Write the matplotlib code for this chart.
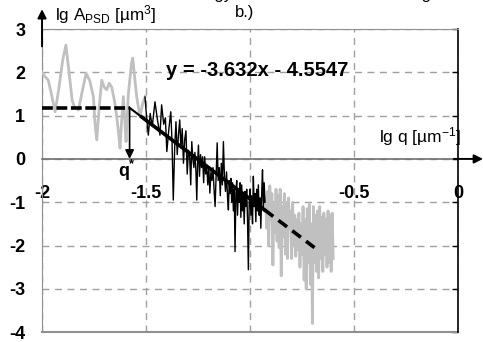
import numpy as np
import matplotlib.pyplot as plt

plt.rcParams['font.family'] = ['Liberation Sans', 'DejaVu Sans']
plt.rcParams['mathtext.fontset'] = 'custom'
plt.rcParams['mathtext.rm'] = 'Liberation Sans'
plt.rcParams['mathtext.it'] = 'Liberation Sans:italic'
plt.rcParams['mathtext.bf'] = 'Liberation Sans:bold'

# ==== data ====
# grey: low-q part (not fitted)
low_x = [-2.000, -1.985, -1.970, -1.955, -1.937, -1.920, -1.900, -1.885, -1.870,
         -1.855, -1.845, -1.825, -1.805, -1.788, -1.770, -1.753, -1.745, -1.737,
         -1.725, -1.713, -1.700, -1.689, -1.677, -1.665, -1.650, -1.641, -1.632,
         -1.625, -1.617, -1.609, -1.602, -1.596, -1.585, -1.570, -1.564, -1.555,
         -1.545, -1.529, -1.515, -1.503]
low_y = [2.00, 1.90, 1.82, 1.50, 1.09, 1.60, 2.30, 2.63, 2.00,
         1.35, 1.21, 1.13, 1.60, 1.98, 1.80, 1.44, 0.80, 0.44,
         1.20, 1.82, 1.65, 1.60, 1.75, 1.66, 1.30, 0.98, 0.60,
         0.25, 0.90, 1.44, 0.90, 0.40, 1.50, 2.20, 2.33, 1.90,
         1.44, 0.98, 1.30, 1.45]

# black: fitted range
fit_x = [-1.505, -1.497, -1.489, -1.480, -1.470, -1.457, -1.445, -1.433, -1.425, -1.415,
         -1.407, -1.400, -1.390, -1.381, -1.375, -1.369, -1.362, -1.356, -1.350, -1.344,
         -1.338, -1.332, -1.326, -1.320, -1.314, -1.308, -1.302, -1.296, -1.290, -1.285,
         -1.280, -1.275, -1.270, -1.265, -1.260, -1.256, -1.252, -1.248, -1.243, -1.238,
         -1.233, -1.228, -1.223, -1.218, -1.213, -1.208, -1.203, -1.198, -1.193, -1.188,
         -1.183, -1.178, -1.173, -1.168, -1.163, -1.158, -1.153, -1.148, -1.143, -1.138,
         -1.133, -1.128, -1.123, -1.118, -1.113, -1.108, -1.104, -1.100, -1.096, -1.092,
         -1.088, -1.084, -1.080, -1.076, -1.072, -1.068, -1.064, -1.060, -1.056, -1.052,
         -1.048, -1.044, -1.040, -1.036, -1.032, -1.028, -1.024, -1.020, -1.016, -1.012,
         -1.008, -1.004, -1.000, -0.996, -0.992, -0.988, -0.984, -0.980, -0.976, -0.972,
         -0.968, -0.964, -0.960, -0.956, -0.952, -0.948, -0.944, -0.940, -0.936, -0.932,
         -0.928]
fit_y = [1.43, 0.95, 0.55, 1.05, 0.75, 1.32, 0.90, 0.55, 1.25, 0.80,
         0.95, 0.17, 0.70, 1.09, 0.40, -0.95, 0.30, 0.86, 0.10, 0.55,
         0.90, 0.25, 0.70, -0.10, 0.45, 0.65, -0.35, 0.20, 0.05, -0.60,
         0.40, 0.00, -0.20, 0.15, -0.30, -0.95, -0.10, 0.32, -0.40, 0.10,
         -0.20, 0.05, -0.55, 0.05, -0.35, -0.15, -0.60, -0.20, -0.79, -0.30,
         -0.50, -0.20, -0.70, -1.10, -0.40, 0.37, -0.50, -0.20, -0.85, -0.10,
         -0.60, 0.40, -0.40, -0.75, -0.30, -0.90, -1.18, -0.50, -0.80, -0.45,
         -1.00, -0.55, -1.20, -0.70, -2.14, -0.80, -0.50, -1.30, -0.70, -1.00,
         -0.55, -1.35, -0.60, -1.20, -0.80, -1.50, -0.75, -1.10, -0.70, -1.40,
         -2.56, -1.00, -0.70, -1.30, -0.85, -1.50, -0.40, -1.10, -0.80, -1.45,
         -0.70, -1.20, -0.60, -1.30, -0.90, -1.60, -0.80, -0.25, -1.20, -0.55,
         -1.00]

# grey: high-q part (not fitted)
high_x = [-0.925, -0.920, -0.915, -0.910, -0.905, -0.900, -0.895, -0.890, -0.885, -0.880,
          -0.875, -0.870, -0.865, -0.860, -0.855, -0.850, -0.845, -0.840, -0.835, -0.830,
          -0.825, -0.820, -0.815, -0.810, -0.805, -0.800, -0.795, -0.790, -0.785, -0.780,
          -0.775, -0.770, -0.765, -0.760, -0.755, -0.750, -0.745, -0.740, -0.735, -0.730,
          -0.725, -0.720, -0.715, -0.710, -0.705, -0.700, -0.695, -0.690, -0.685, -0.680,
          -0.675, -0.670, -0.665, -0.660, -0.655, -0.650, -0.645, -0.640, -0.635, -0.630,
          -0.625, -0.620, -0.615, -0.610, -0.605, -0.600]
high_y = [-0.90, -1.60, -0.75, -2.00, -0.62, -1.40, -0.80, -2.45, -1.00, -1.70,
          -0.70, -1.90, -0.85, -2.05, -0.70, -2.70, -1.10, -1.80, -0.80, -2.20,
          -1.00, -2.30, -0.90, -1.60, -1.20, -2.30, -1.00, -2.00, -1.30, -2.25,
          -1.40, -2.10, -1.25, -2.50, -1.50, -2.20, -1.10, -2.80, -1.40, -3.00,
          -1.15, -2.40, -1.05, -2.90, -1.50, -3.80, -1.10, -2.40, -1.30, -2.60,
          -1.20, -2.75, -1.10, -2.30, -1.35, -2.60, -1.25, -2.20, -1.40, -2.50,
          -1.20, -2.40, -1.30, -2.60, -1.25, -2.30]

slope = -3.632
intercept = -4.5547
plateau = 1.18
fit_start, fit_end, dash_end = -1.52, -0.93, -0.69

x_ticks = [-2, -1.5, -1, -0.5, 0]
x_labels = ["-2", "-1.5", "", "-0.5", "0"]
y_ticks = [-4, -3, -2, -1, 0, 1, 2, 3]

# ==== figure ====
fig = plt.figure(figsize=(4.83, 3.42), dpi=100)
ax = fig.add_axes([0.087, 0.029, 0.8613, 0.886])

# spine position first (it resets the tick objects)
ax.spines['bottom'].set_position(('data', 0))
ax.spines['bottom'].set_color('#707070')
ax.spines['bottom'].set_linewidth(1.2)
ax.spines['top'].set_color('#909090')
ax.spines['left'].set_color('#909090')
ax.spines['right'].set_color('black')
ax.spines['right'].set_linewidth(1.2)

ax.set_xlim(-2, 0)
ax.set_ylim(-4, 3)

ax.set_xticks(x_ticks)
ax.set_xticklabels(x_labels, fontsize=13, fontweight='bold')
ax.set_yticks(y_ticks)
ax.set_yticklabels([str(v) for v in y_ticks], fontsize=13, fontweight='bold')
ax.set_axisbelow(True)
ax.grid(True, color='#a0a0a0', linestyle=(0, (5, 4)), lw=1)

ax.axhline(-4, color='#909090', lw=1.5, clip_on=False)

ax.tick_params(axis='x', length=0, pad=19)
ax.tick_params(axis='y', left=False, right=True, labelleft=True, labelright=False,
               direction='in', length=4, width=1, color='black', pad=12)

# data lines
ax.plot(low_x, low_y, color='#c0c0c0', lw=2, zorder=3)
ax.plot(high_x, high_y, color='#c0c0c0', lw=2, zorder=3)
ax.plot(fit_x, fit_y, color='black', lw=1, zorder=4)

# fitted line, plateau and knee q*
q_star = (plateau - intercept) / slope
ax.plot([-2, q_star], [plateau, plateau], color='black', lw=2.6,
        dashes=(3, 1), zorder=5, clip_on=False)
ax.plot([q_star, fit_start], [plateau, slope * fit_start + intercept],
        color='black', lw=1.5, zorder=5)
ax.plot([fit_start, fit_end], [slope * fit_start + intercept, slope * fit_end + intercept],
        color='black', lw=2.6, zorder=5)
ax.plot([fit_end, dash_end], [slope * fit_end + intercept, slope * dash_end + intercept],
        color='black', lw=2.6, dashes=(3, 1.8), zorder=5)

ax.annotate('', xy=(q_star, 0.0), xytext=(q_star, plateau),
            arrowprops=dict(arrowstyle='-|>', color='black', lw=1.2, mutation_scale=13,
                            shrinkA=0, shrinkB=0), zorder=6)

# axis arrows
ax.annotate('', xy=(-2, 3.46), xytext=(-2, 2.6), annotation_clip=False,
            arrowprops=dict(arrowstyle='-|>', color='black', lw=1.4, mutation_scale=13,
                            shrinkA=0, shrinkB=0))
ax.annotate('', xy=(0.12, 0), xytext=(-0.02, 0), annotation_clip=False,
            arrowprops=dict(arrowstyle='-|>', color='black', lw=1.4, mutation_scale=13,
                            shrinkA=0, shrinkB=0))

# texts
ax.text(-1.404, 2.05, "y = -3.632x - 4.5547", fontsize=14.5, fontweight='bold',
        va='center', ha='left', zorder=6)
ax.text(-1.9375, 3.33, r"lg A$_{\mathrm{PSD}}$ [µm$^{3}$]", fontsize=12.3,
        va='center', ha='left', clip_on=False)
ax.text(-0.38, 0.51, r"lg q [µm$^{-1}$]", fontsize=12.5, va='center', ha='left')
ax.text(-1.606, -0.30, "q", fontsize=13, fontweight='bold', va='center', ha='center')
ax.text(-1.570, -0.12, "*", fontsize=9, fontweight='bold', va='center', ha='center')

fig.text(235 / 483, 1 - 12 / 342, "b.)", fontsize=12, va='center', ha='left')
fig.text(232 / 483, 1.003, "energy", fontsize=12, va='baseline', ha='right')
fig.text(432 / 483, 1.003, "fitting", fontsize=12, va='baseline', ha='right')

fig.savefig("out.png", dpi=100)
